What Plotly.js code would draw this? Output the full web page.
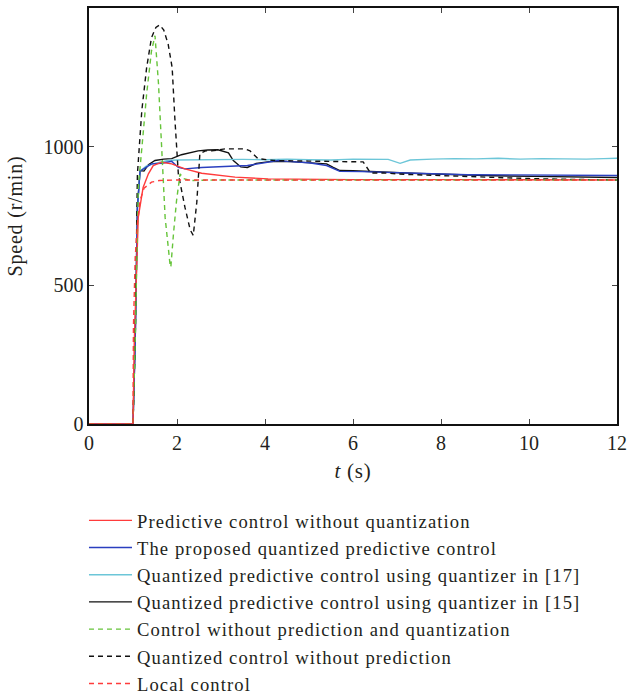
<!DOCTYPE html>
<html>
<head>
<meta charset="utf-8">
<script src="https://cdn.plot.ly/plotly-3.0.1.min.js"></script>
<style>
html,body{margin:0;padding:0;background:#fff;}
#chart{width:627px;height:698px;}
.legendtext{letter-spacing:1.1px;}
.xtitle,.ytitle{letter-spacing:0.8px;}
</style>
</head>
<body>
<div id="chart"></div>
<script>
// Predictive control without quantization (red solid)
const tRed = [0, 1.0, 1.03, 1.08, 1.12, 1.23, 1.35, 1.46, 1.65, 1.88, 2.18, 2.56, 2.94, 3.32, 4.07, 5, 6, 8, 10, 12];
const vRed = [0, 0, 300, 600, 746, 853, 902, 932, 944, 938, 920, 904, 896, 890, 884, 882, 881, 881, 880, 880];

// The proposed quantized predictive control (blue)
const tBlue = [0, 1.0, 1.05, 1.1, 1.16, 1.3, 1.42, 1.65, 1.88, 2.03, 2.18, 2.56, 3.0, 3.32, 3.6, 3.84, 4.3, 4.5, 5.0, 5.4, 5.7, 6.2, 7.07, 7.6, 8.6, 9.5, 10.1, 11, 12];
const vBlue = [0, 0, 300, 780, 912, 925, 938, 940, 947, 925, 920, 925, 927, 928, 932, 938, 950, 947, 942, 932, 911, 910, 907, 903, 899, 898, 898, 897, 896];

// Quantized predictive control using quantizer in [17] (cyan)
const tCyan = [0, 1.0, 1.05, 1.1, 1.16, 1.3, 1.5, 1.65, 1.8, 2.0, 2.5, 3.0, 3.5, 4.0, 4.5, 5.0, 5.5, 6.0, 6.5, 6.8, 7.07, 7.3, 7.8, 8.3, 8.8, 9.3, 9.8, 10.3, 10.8, 11.3, 11.7, 12];
const vCyan = [0, 0, 300, 780, 912, 930, 940, 945, 950, 952, 953, 953, 954, 953, 955, 953, 952, 955, 953, 954, 940, 952, 955, 957, 956, 958, 955, 957, 956, 955, 957, 958];

// Quantized predictive control using quantizer in [15] (black solid)
const tBlk = [0, 1.0, 1.05, 1.1, 1.16, 1.25, 1.35, 1.5, 1.7, 1.88, 2.1, 2.3, 2.48, 2.7, 2.93, 3.17, 3.28, 3.45, 3.6, 3.8, 4.1, 4.5, 5.0, 5.4, 5.55, 5.7, 6.0, 6.45, 7.07, 7.5, 8.0, 8.6, 9.2, 10.1, 11, 12];
const vBlk = [0, 0, 300, 780, 914, 912, 935, 950, 955, 957, 971, 978, 985, 988, 989, 978, 950, 927, 925, 940, 946, 947, 942, 938, 925, 914, 913, 911, 906, 903, 900, 899, 895, 893, 890, 889];

// Control without prediction and quantization (green dashed)
const tGrn = [0, 1.0, 1.05, 1.12, 1.23, 1.31, 1.42, 1.5, 1.58, 1.65, 1.73, 1.84, 1.86, 1.92, 1.99, 2.07, 2.15, 2.3, 2.6, 3, 4, 6, 8, 10, 12];
const vGrn = [0, 0, 300, 853, 1046, 1190, 1345, 1400, 1226, 986, 745, 578, 566, 686, 806, 902, 885, 878, 880, 880, 880, 880, 880, 880, 880];

// Quantized control without prediction (black dashed)
const tBd = [0, 1.0, 1.05, 1.1, 1.2, 1.31, 1.42, 1.52, 1.61, 1.7, 1.8, 1.89, 1.95, 2.03, 2.18, 2.3, 2.37, 2.45, 2.52, 2.65, 2.79, 3.09, 3.55, 3.66, 3.84, 4.2, 5.0, 5.8, 6.23, 6.4, 6.7, 7.2, 8, 9, 10, 11, 12];
const vBd = [0, 0, 300, 900, 1130, 1285, 1393, 1430, 1439, 1420, 1369, 1285, 1105, 902, 782, 700, 680, 800, 975, 985, 985, 992, 992, 985, 957, 950, 948, 946, 945, 905, 905, 900, 895, 890, 885, 882, 880];

// Local control (red dashed)
const tLoc = [0, 1.0, 1.01, 1.05, 1.1, 1.16, 1.25, 1.42, 1.6, 2, 3, 4, 6, 8, 10, 12];
const vLoc = [0, 0, 350, 600, 720, 806, 850, 872, 878, 880, 880, 880, 880, 880, 880, 880];

const names = [
  'Predictive control without quantization',
  'The proposed quantized predictive control',
  'Quantized predictive control using quantizer in [17]',
  'Quantized predictive control using quantizer in [15]',
  'Control without prediction and quantization',
  'Quantized control without prediction',
  'Local control'
];
const xTicks = [0, 2, 4, 6, 8, 10, 12];
const yTicks = [0, 500, 1000, 1500];

const FONT = 'Liberation Serif, Times New Roman, serif';
const TXT = '#231f20';
function tr(x, y, name, color, dash, rank) {
  return {x: x, y: y, name: name, type: 'scatter', mode: 'lines', legendrank: rank,
    line: {color: color, width: 1.4, dash: dash}, hoverinfo: 'skip'};
}
const data = [
  tr(tBlk, vBlk, names[3], '#111111', 'solid', 4),
  tr(tCyan, vCyan, names[2], '#6cc6d8', 'solid', 3),
  tr(tBlue, vBlue, names[1], '#2a3fbf', 'solid', 2),
  tr(tRed, vRed, names[0], '#ff3b3b', 'solid', 1),
  tr(tBd, vBd, names[5], '#111111', '5px,4px', 6),
  tr(tGrn, vGrn, names[4], '#66c43a', '5px,4px', 5),
  tr(tLoc, vLoc, names[6], '#ff3b3b', '5px,4px', 7)
];

const layout = {
  width: 627, height: 698,
  margin: {l: 89, r: 10, t: 8, b: 274, autoexpand: false},
  paper_bgcolor: '#fff', plot_bgcolor: '#fff',
  font: {family: FONT, size: 20, color: TXT},
  showlegend: true,
  legend: {x: -0.0095, y: -0.187, xanchor: 'left', yanchor: 'top', orientation: 'v',
    traceorder: 'normal', itemwidth: 43,
    font: {family: FONT, size: 18.6, color: TXT}, tracegroupgap: 0, bgcolor: 'rgba(0,0,0,0)'},
  xaxis: {range: [0, 12], tickvals: xTicks, ticktext: xTicks.map(String), ticks: 'inside', ticklen: 5,
    showline: true, linecolor: '#111', linewidth: 1.6, mirror: 'ticks', showgrid: false, zeroline: false,
    tickfont: {family: FONT, size: 20, color: TXT},
    title: {text: '<i>t</i> (s)', font: {family: FONT, size: 21, color: TXT}, standoff: 11}},
  yaxis: {range: [0, 1500], tickvals: yTicks, ticktext: yTicks.map(String), ticks: 'inside', ticklen: 5,
    showline: true, linecolor: '#111', linewidth: 1.6, mirror: 'ticks', showgrid: false, zeroline: false,
    tickfont: {family: FONT, size: 20, color: TXT},
    title: {text: 'Speed (r/min)', font: {family: FONT, size: 20, color: TXT}, standoff: 15}}
};
Plotly.newPlot('chart', data, layout, {displayModeBar: false, staticPlot: true});
</script>
</body>
</html>
